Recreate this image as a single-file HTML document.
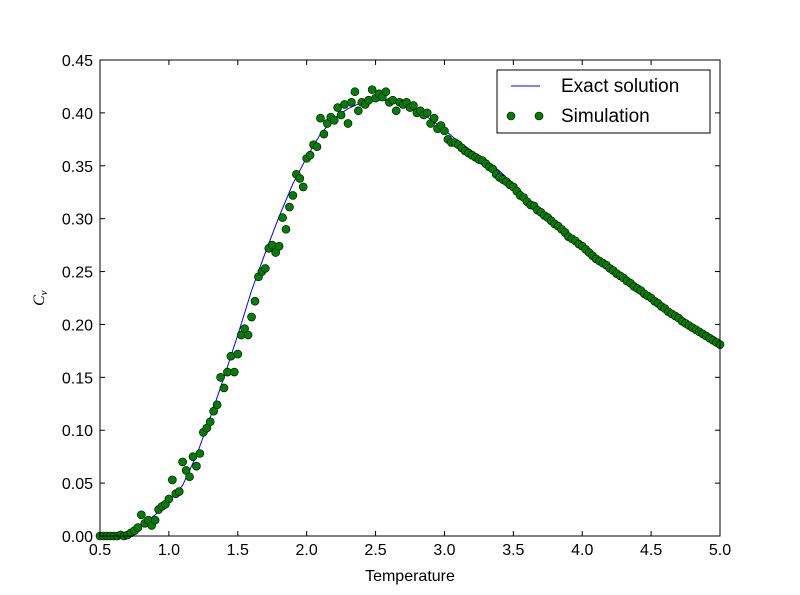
<!DOCTYPE html>
<html><head><meta charset="utf-8">
<style>
html,body{margin:0;padding:0;background:#fff;}
svg{display:block;font-family:"Liberation Sans","DejaVu Sans",sans-serif;}
</style></head>
<body>
<svg id="chart" width="800" height="595" xmlns="http://www.w3.org/2000/svg">
<rect x="0" y="0" width="800" height="595" fill="#fff"/>
<g id="plot"></g>
</svg>
<script>
const exactT = [0.5,0.6,0.7,0.8,0.9,1.0,1.1,1.2,1.3,1.4,1.5,1.6,1.7,1.8,1.9,2.0,2.1,2.2,2.3,2.4,2.5,2.6,2.7,2.8,2.9,3.0,3.1,3.2,3.3,3.4,3.5,3.6,3.7,3.8,3.9,4.0,4.1,4.2,4.3,4.4,4.5,4.6,4.7,4.8,4.9,5.0];
const exactCv = [0,0,0.003,0.01,0.02,0.032,0.048,0.076,0.112,0.15,0.19,0.232,0.268,0.302,0.333,0.358,0.38,0.395,0.404,0.41,0.412,0.412,0.408,0.402,0.394,0.384,0.373,0.364,0.355,0.345,0.333,0.32,0.308,0.297,0.285,0.274,0.263,0.253,0.243,0.234,0.225,0.215,0.206,0.197,0.189,0.181];
const simStart = 0.5;
const simStep = 0.025;
const simCv = [0,0,0,0,0,0,0.001,0,0.001,0.003,0.005,
0.008,0.02,0.012,0.015,0.01,0.015,0.025,0.028,0.03,0.035,
0.053,0.04,0.042,0.07,0.062,0.056,0.075,0.066,0.078,0.098,
0.102,0.108,0.118,0.124,0.15,0.14,0.155,0.17,0.155,0.172,
0.19,0.196,0.19,0.207,0.222,0.245,0.25,0.253,0.272,0.275,
0.268,0.274,0.301,0.29,0.311,0.322,0.342,0.338,0.33,0.357,
0.36,0.37,0.368,0.395,0.38,0.39,0.396,0.393,0.405,0.398,
0.408,0.39,0.41,0.42,0.402,0.41,0.408,0.412,0.422,0.414,
0.418,0.415,0.42,0.41,0.412,0.402,0.41,0.408,0.41,0.405,
0.407,0.4,0.402,0.398,0.4,0.39,0.395,0.385,0.388,0.383,
0.375,0.372,0.372,0.37,0.367,0.364,0.362,0.36,0.358,0.356,
0.355,0.352,0.349,0.347,0.342,0.339,0.337,0.335,0.332,0.33,
0.326,0.322,0.32,0.316,0.313,0.312,0.308,0.306,0.303,0.301,
0.298,0.295,0.293,0.29,0.287,0.283,0.281,0.279,0.276,0.274,
0.271,0.268,0.265,0.262,0.26,0.258,0.256,0.253,0.251,0.248,
0.246,0.244,0.241,0.239,0.236,0.234,0.232,0.229,0.227,0.225,
0.222,0.22,0.217,0.215,0.212,0.21,0.208,0.206,0.203,0.201,
0.199,0.197,0.195,0.193,0.191,0.189,0.187,0.185,0.183,0.181];
const xTicks = ["0.5","1.0","1.5","2.0","2.5","3.0","3.5","4.0","4.5","5.0"];
const yTicks = ["0.00","0.05","0.10","0.15","0.20","0.25","0.30","0.35","0.40","0.45"];

const L=100,R=720,T=60,B=536;
const xMin=0.5,xMax=5.0,yMin=0,yMax=0.45;
const sx=v=>L+(v-xMin)/(xMax-xMin)*(R-L);
const sy=v=>B-(v-yMin)/(yMax-yMin)*(B-T);
const NS="http://www.w3.org/2000/svg";
const g=document.getElementById('plot');
function mk(tag,attrs,parent){const e=document.createElementNS(NS,tag);for(const k in attrs)e.setAttribute(k,attrs[k]);(parent||g).appendChild(e);return e;}

let d=exactT.map((t,i)=>(i?'L':'M')+sx(t).toFixed(2)+' '+sy(exactCv[i]).toFixed(2)).join(' ');
const line=mk('path',{d:d,fill:'none',stroke:'#0000ff','stroke-width':1});



const pts=mk('g',{});


simCv.forEach((v,i)=>{
  const t=simStart+simStep*i;
  const c=mk('circle',{cx:sx(t).toFixed(2),cy:sy(v).toFixed(2),r:4,fill:'#008000',stroke:'#000','stroke-width':0.6},pts);
  
  
});

const fr=mk('rect',{x:L,y:T,width:R-L,height:B-T,fill:'none',stroke:'#000','stroke-width':1});



xTicks.forEach(s=>{
  const x=sx(parseFloat(s));
  mk('line',{x1:x,y1:B,x2:x,y2:B-5,stroke:'#000'});
  mk('line',{x1:x,y1:T,x2:x,y2:T+5,stroke:'#000'});
  const tx=mk('text',{x:x,y:B+19,'text-anchor':'middle','font-size':16,fill:'#000'});
  tx.textContent=s;
  
  
});
yTicks.forEach(s=>{
  const y=sy(parseFloat(s));
  mk('line',{x1:L,y1:y,x2:L+5,y2:y,stroke:'#000'});
  mk('line',{x1:R,y1:y,x2:R-5,y2:y,stroke:'#000'});
  const tx=mk('text',{x:L-7,y:y+6,'text-anchor':'end','font-size':16,fill:'#000'});
  tx.textContent=s;
  
  
});

const xl=mk('text',{x:410,y:581,'text-anchor':'middle','font-size':16});
xl.textContent='Temperature';


const yl=mk('text',{x:0,y:0,'font-size':16,'font-style':'italic','font-family':'Liberation Serif, serif',transform:'translate(44,306) rotate(-90)'});
yl.innerHTML='C<tspan font-size="11" dy="3">v</tspan>';



const lg=mk('g',{});


mk('rect',{x:497,y:70,width:213,height:63,fill:'#fff',stroke:'#000','stroke-width':1},lg);
const e1=mk('g',{},lg);


mk('line',{x1:511,y1:86,x2:540,y2:86,stroke:'#0000ff','stroke-width':1},e1);
const t1=mk('text',{x:561,y:92,'font-size':19},e1);t1.textContent='Exact solution';
const e2=mk('g',{},lg);


mk('circle',{cx:511,cy:116,r:4,fill:'#008000',stroke:'#000','stroke-width':0.6},e2);
mk('circle',{cx:539,cy:116,r:4,fill:'#008000',stroke:'#000','stroke-width':0.6},e2);
const t2=mk('text',{x:561,y:122,'font-size':19},e2);t2.textContent='Simulation';
</script>
</body></html>
